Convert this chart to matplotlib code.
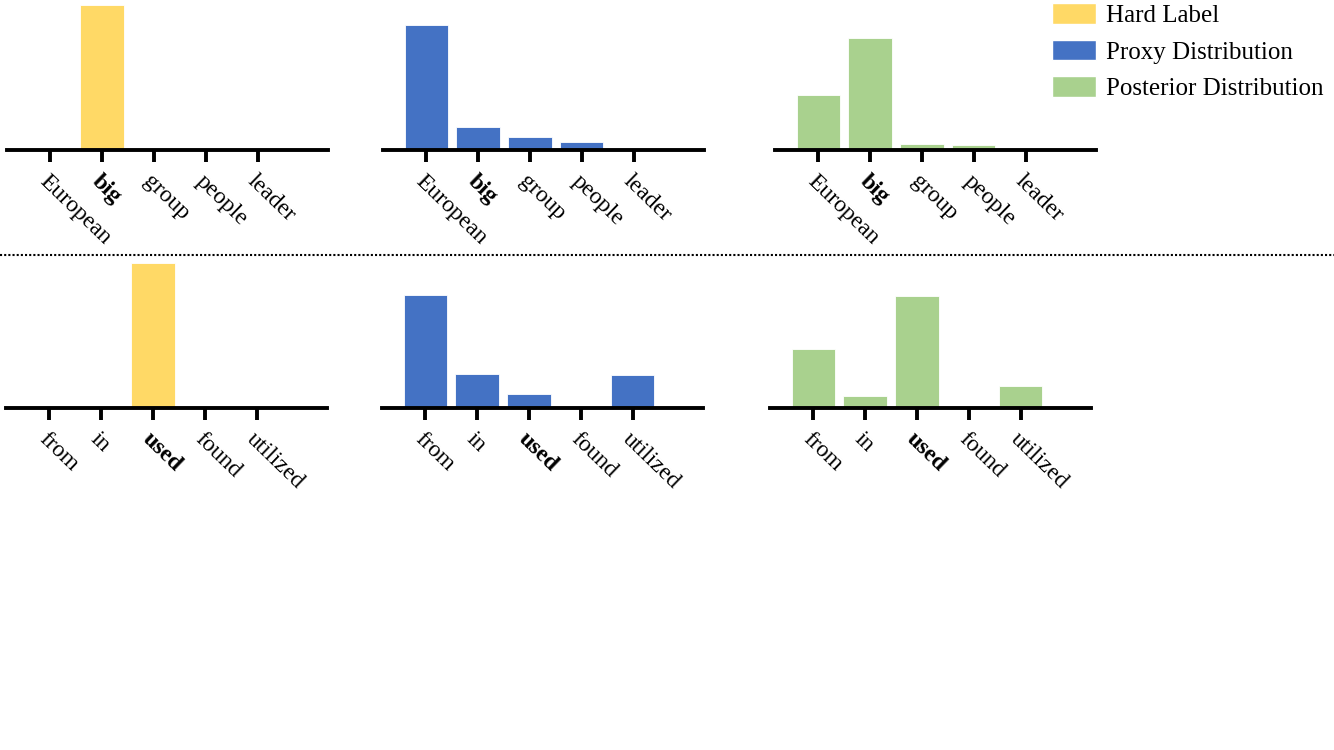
import matplotlib
matplotlib.use("Agg")
import matplotlib.pyplot as plt
from matplotlib.patches import Patch
from matplotlib.lines import Line2D

plt.rcParams['font.family'] = ['Liberation Serif', 'DejaVu Serif']

# data
words_top = ['European', 'big', 'group', 'people', 'leader']
hard_top = [0, 1.0, 0, 0, 0]
proxy_top = [0.86, 0.16, 0.09, 0.055, 0.0]
post_top = [0.38, 0.77, 0.04, 0.035, 0.01]
bold_top = 'big'

words_bot = ['from', 'in', 'used', 'found', 'utilized']
hard_bot = [0, 0, 1.0, 0, 0]
proxy_bot = [0.78, 0.235, 0.095, 0.0, 0.23]
post_bot = [0.41, 0.08, 0.77, 0.0, 0.15]
bold_bot = 'used'

series_names = ['Hard Label', 'Proxy Distribution', 'Posterior Distribution']
colors = ['#FFD966', '#4472C4', '#A9D18E']

W, H = 1334, 750
fig = plt.figure(figsize=(W / 100, H / 100), dpi=100)


def panel(left_px, base_px, vals, words, bold, color):
    ax = fig.add_axes([left_px / W, 1 - base_px / H, 321 / W, 145 / H])
    x = range(len(words))
    ax.bar(x, vals, width=0.83, color=color, edgecolor='white', linewidth=0.6)
    ax.set_xlim(-0.83, 5.35)
    ax.set_ylim(0, 1.0)
    for s in ['top', 'right', 'left']:
        ax.spines[s].set_visible(False)
    ax.spines['bottom'].set_linewidth(2.8)
    ax.set_yticks([])
    ax.set_xticks(list(x))
    ax.tick_params(axis='x', length=8.5, width=2.8, pad=6.5)
    ax.set_xticklabels(words, rotation=-44, ha='left', va='top',
                       rotation_mode='anchor', fontsize=17)
    for lab in ax.get_xticklabels():
        if lab.get_text() == bold:
            lab.set_fontweight('bold')
    return ax


lefts = [7, 383, 775]
for i, vals in enumerate([hard_top, proxy_top, post_top]):
    panel(lefts[i], 150, vals, words_top, bold_top, colors[i])

lefts_b = [6, 382, 770]
for i, vals in enumerate([hard_bot, proxy_bot, post_bot]):
    panel(lefts_b[i], 408, vals, words_bot, bold_bot, colors[i])

# dotted separator
fig.add_artist(Line2D([0, 1], [1 - 255 / H, 1 - 255 / H], color='black',
                      linestyle=(0, (1, 1)), linewidth=1.5,
                      transform=fig.transFigure))

handles = [Patch(facecolor=c, edgecolor='white') for c in colors]
fig.legend(handles, series_names, loc='upper left',
           bbox_to_anchor=(1052 / W, 1 - 3 / H), frameon=False, fontsize=18,
           handlelength=1.76, handleheight=0.9, handletextpad=0.4,
           labelspacing=0.5, borderpad=0.0, borderaxespad=0.0)

fig.savefig('out.png', dpi=100)
